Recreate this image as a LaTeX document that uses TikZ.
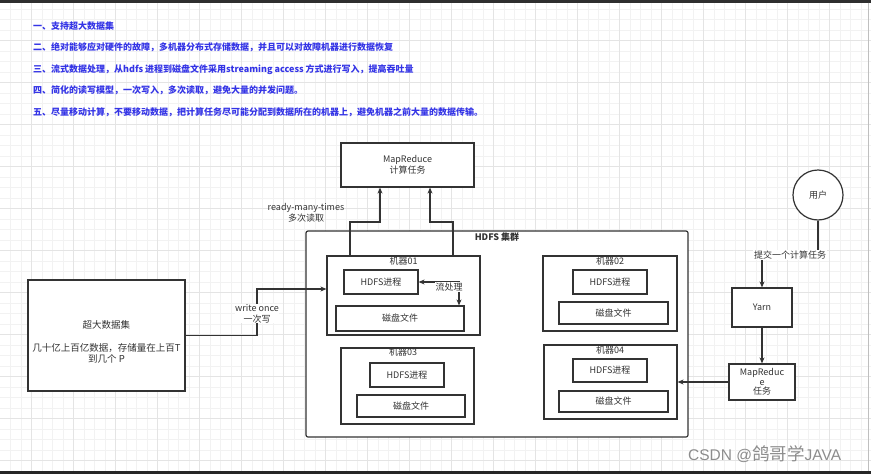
\documentclass[tikz,border=0pt]{standalone}
\usepackage{fontspec}
\setmainfont{Noto Sans CJK SC}
\newfontfamily\wmlatin{Liberation Sans}
\usetikzlibrary{arrows.meta}
\definecolor{bluetxt}{RGB}{52,52,230}
\definecolor{ink}{RGB}{51,51,51}
\definecolor{gridminor}{RGB}{242,242,242}
\definecolor{gridmajor}{RGB}{228,228,228}
\tikzset{
  box/.style={draw=ink, line width=1.2pt, fill=white, inner sep=0pt, text=ink,
    font=\fontsize{9}{11}\selectfont, align=center},
  lbl/.style={inner sep=1pt, text=ink, font=\fontsize{9}{11}\selectfont, align=center},
  arr/.style={draw=ink, line width=1.2pt, -{Stealth[length=6pt,width=5pt]}},
  bluetext/.style={anchor=west, inner sep=0pt, text=bluetxt, font=\fontsize{9}{11}\selectfont\bfseries},
}
\begin{document}
\begin{tikzpicture}[x=1pt,y=-1pt]
\useasboundingbox (0,0) rectangle (871,474);
\fill[white] (0,0) rectangle (871,474);
% grid
\foreach \x in {10.3,20.8,...,871} \draw[gridminor, line width=0.6pt] (\x,2) -- (\x,471);
\foreach \y in {9.2,19.7,...,471} \draw[gridminor, line width=0.6pt] (0,\y) -- (871,\y);
\foreach \x in {31.3,73.3,...,871} \draw[gridmajor, line width=0.7pt] (\x,2) -- (\x,471);
\foreach \y in {40.7,82.7,...,471} \draw[gridmajor, line width=0.7pt] (0,\y) -- (871,\y);
% frame bars
\fill[black!82] (0,0) rectangle (871,2.7);
\fill[black!85] (0,470.5) rectangle (871,474);
\draw[gray!50, line width=0.8pt] (868.5,2.7) -- (868.5,470.5);

% top text
\node[bluetext] (t1) at (33,26) {一、支持超大数据集};
\node[bluetext] (t2) at (33,47.5) {二、绝对能够应对硬件的故障，多机器分布式存储数据，并且可以对故障机器进行数据恢复};
\node[bluetext] (t3) at (33,69.5) {三、流式数据处理，从hdfs 进程到磁盘文件采用streaming access 方式进行写入，提高吞吐量};
\node[bluetext] (t4) at (33,90.5) {四、简化的读写模型，一次写入，多次读取，避免大量的并发问题。};
\node[bluetext] (t5) at (33,112.5) {五、尽量移动计算，不要移动数据，把计算任务尽可能分配到数据所在的机器上，避免机器之前大量的数据传输。};

% MapReduce top
\node[box, minimum width=133pt, minimum height=44pt] (mr) at (407.5,165) {MapReduce\\计算任务};

% cluster
\node[box, rounded corners=2pt, minimum width=382pt, minimum height=206pt] (cl) at (497,334) {};
\node[lbl, font=\fontsize{9}{11}\selectfont\bfseries] (cll) at (497,237) {HDFS 集群};

% machine 01
\node[box, minimum width=153pt, minimum height=79pt] (m1) at (403.5,295.5) {};
\node[lbl, anchor=north, inner sep=0pt] (m1l) at (403.5,257) {机器01};
\node[box, minimum width=74pt, minimum height=24pt] (m1h) at (381,282) {HDFS进程};
\node[box, minimum width=128pt, minimum height=25pt] (m1d) at (400,318.5) {磁盘文件};

% machine 02
\node[box, minimum width=134pt, minimum height=75pt] (m2) at (610,293.5) {};
\node[lbl, anchor=north, inner sep=0pt] (m2l) at (610,257) {机器02};
\node[box, minimum width=74pt, minimum height=24pt] (m2h) at (610,282) {HDFS进程};
\node[box, minimum width=109pt, minimum height=22pt] (m2d) at (613.5,313) {磁盘文件};

% machine 03
\node[box, minimum width=133pt, minimum height=76pt] (m3) at (407.5,386) {};
\node[lbl, anchor=north, inner sep=0pt] (m3l) at (403,347.5) {机器03};
\node[box, minimum width=74pt, minimum height=24pt] (m3h) at (407,375) {HDFS进程};
\node[box, minimum width=108pt, minimum height=22pt] (m3d) at (411,406) {磁盘文件};

% machine 04
\node[box, minimum width=133pt, minimum height=74pt] (m4) at (610.5,382) {};
\node[lbl, anchor=north, inner sep=0pt] (m4l) at (610,345.5) {机器04};
\node[box, minimum width=74pt, minimum height=23pt] (m4h) at (610,370.5) {HDFS进程};
\node[box, minimum width=109pt, minimum height=21pt] (m4d) at (613.5,401.5) {磁盘文件};

% big data box
\node[box, minimum width=157pt, minimum height=111pt] (big) at (106.5,335.5) {};
\node[lbl, font=\fontsize{9.5}{11.5}\selectfont] (bigt) at (106.5,342) {超大数据集\\[11.5pt]几十亿上百亿数据，存储量在上百T\\到几个 P};

% user, yarn, mapreduce task
\node[draw=ink, line width=1.2pt, fill=white, circle, minimum size=50pt, inner sep=0pt, text=ink,
  font=\fontsize{9}{11}\selectfont] (user) at (818,195) {用户};
\node[box, minimum width=60pt, minimum height=39pt] (yarn) at (762,307.5) {Yarn};
\node[box, minimum width=66pt, minimum height=36pt, font=\fontsize{9}{9.3}\selectfont] (mrt) at (762,382) {MapReduc\\e\\任务};

% connectors
\coordinate (wo) at (257,289);
\draw[arr] (big.east) -| (wo) -- (wo -| m1.west);
\node[lbl, fill=white, inner sep=0.5pt] (wol) at (257,313.5) {write once\\一次写};

\coordinate (r1) at (380,222);
\coordinate (r2) at (430,222);
\draw[arr] ([xshift=-53.5pt]m1.north) |- (r1) -- (r1 |- mr.south);
\draw[arr] ([xshift=49.5pt]m1.north) |- (r2) -- (r2 |- mr.south);
\node[lbl, font=\fontsize{9}{10.5}\selectfont] (rml) at (306,213) {ready-many-times\\多次读取};

\coordinate (lc) at (459,306);
\draw[draw=ink, line width=1.2pt, {Stealth[length=6pt,width=5pt]}-{Stealth[length=6pt,width=5pt]}]
  (m1h.east) -| (lc |- m1d.north);
\node[lbl, fill=white, inner sep=0.5pt] (lcl) at (449,287) {流处理};

\coordinate (uc) at (790,254);
\draw[arr] (user.south) |- (uc) -| (yarn.north);
\node[lbl, fill=white, inner sep=1pt] (ucl) at (790,255) {提交一个计算任务};

\draw[arr] (yarn.south) -- (mrt.north);
\draw[arr] (mrt.west) -- (mrt.west -| m4.east);

% watermark
\node[anchor=west, inner sep=0pt, text=black!45] (wm) at (688,454)
  {\fontsize{15.5}{18}\selectfont\wmlatin CSDN @\fontsize{17.5}{18}\selectfont\rmfamily 鸽哥学\fontsize{15.5}{18}\selectfont\wmlatin JAVA};
\end{tikzpicture}
\end{document}
